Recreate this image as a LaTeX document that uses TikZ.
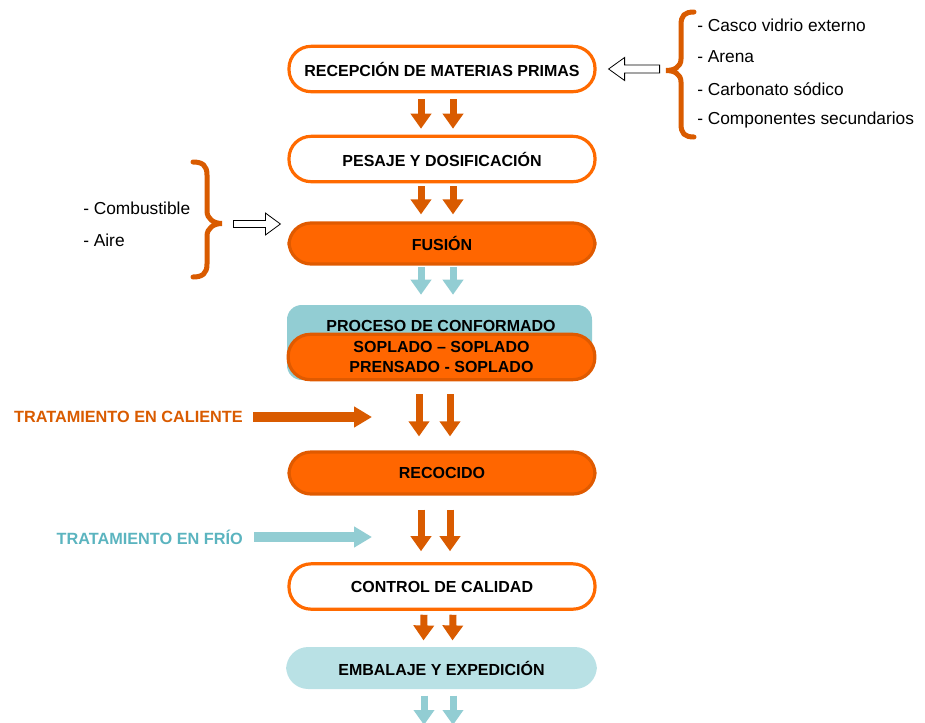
\documentclass[tikz,border=0pt]{standalone}
\usepackage{fontspec}
\setmainfont{Liberation Sans}
\usetikzlibrary{arrows.meta,calc}
\definecolor{orB}{HTML}{FF6A00}
\definecolor{orF}{HTML}{FF6600}
\definecolor{orD}{HTML}{E05A00}
\definecolor{orA}{HTML}{D95B00}
\definecolor{tlA}{HTML}{92CDD3}
\definecolor{tlL}{HTML}{B9E1E5}
\definecolor{tlT}{HTML}{5BB4BF}
\begin{document}
\begin{tikzpicture}[x=0.75pt,y=-0.75pt,
  box/.style={rectangle,rounded corners=16.5pt,minimum width=229.5pt,minimum height=34pt,inner sep=0pt,
    font=\bfseries\fontsize{12pt}{14pt}\selectfont,align=center,line width=2.4pt},
  wbox/.style={box,draw=orB,fill=white},
  obox/.style={box,draw=orD,fill=orF},
  dn/.style={line width=5.25pt,draw=#1,-{Triangle[width=15pt,length=11.25pt]}},
  side/.style={line width=7.5pt,draw=#1,-{Triangle[width=15pt,length=13.5pt]}},
  hollow/.style={draw=black,fill=white,line width=0.6pt,line join=miter},
  brc/.style={draw=orA,line width=3.75pt,line cap=round},
  item/.style={anchor=west,inner sep=0pt,font=\fontsize{13pt}{15pt}\selectfont},
  side label/.style={anchor=east,inner sep=0pt,font=\bfseries\fontsize{12.2pt}{14pt}\selectfont}]
\useasboundingbox (0,0) rectangle (925,722);

% main boxes
\node[wbox] (rec) at (442,69) {RECEPCIÓN DE MATERIAS PRIMAS};
\node[wbox] (pes) at (442,159) {PESAJE Y DOSIFICACIÓN};
\node[obox,minimum height=30.75pt] (fus) at (442,243.5) {FUSIÓN};
\node[rectangle,rounded corners=11pt,fill=tlA,minimum width=228.75pt,minimum height=56.25pt,inner sep=0pt] (proc) at (439.5,342.5) {};
\node[inner sep=0pt,font=\bfseries\fontsize{12pt}{14pt}\selectfont] (proct) at (441,326) {PROCESO DE CONFORMADO};
\node[obox,minimum width=230pt] (sop) at (441.5,357) {SOPLADO – SOPLADO\\[1.2pt]PRENSADO - SOPLADO};
\node[obox,minimum height=31.5pt] (rcc) at (442,473) {RECOCIDO};
\node[wbox] (ctl) at (442,586.5) {CONTROL DE CALIDAD};
\node[box,fill=tlL,minimum width=233pt,minimum height=31.5pt] (emb) at (441.5,668) {EMBALAJE Y EXPEDICIÓN};

% double arrows
\foreach \dx in {-21,11}{
  \draw[dn=orA] ($(rec.south)+(\dx,6)$) -- ($(pes.north)+(\dx,-6)$);
  \draw[dn=orA] ($(pes.south)+(\dx,3)$) -- ($(fus.north)+(\dx,-7)$);
  \draw[dn=tlA] ($(fus.south)+(\dx,1.5)$) -- ($(proc.north)+(\dx+2.5,-10)$);
}
\foreach \dx in {-23,8}{
  \draw[dn=orA] ($(sop.south)+(\dx+0.5,13)$) -- ($(rcc.north)+(\dx,-14)$);
}
\foreach \dx in {-21,8}{
  \draw[dn=orA] ($(rcc.south)+(\dx,14)$) -- ($(ctl.north)+(\dx,-11)$);
}
\coordinate (endA) at (424,725);
\coordinate (endB) at (453,725);
\foreach \dx in {-18,11}{
  \draw[dn=orA] ($(ctl.south)+(\dx,4)$) -- ($(emb.north)+(\dx,-5)$);
}
\draw[dn=tlA] ($(emb.south)+(-17.5,5)$) -- (endA);
\draw[dn=tlA] ($(emb.south)+(11.5,5)$) -- (endB);

% right group
\draw[brc] (694,12) .. controls (684.5,12) and (681,15.5) .. (681,25) -- (681,59)
  .. controls (681,67) and (674,70.5) .. (666,70.5)
  .. controls (674,70.5) and (681,74) .. (681,82) -- (681,124)
  .. controls (681,133.5) and (684.5,137) .. (694,137);
\node[item] (i1) at (697,25) {- Casco vidrio externo};
\node[item] (i2) at (697,57) {- Arena};
\node[item] (i3) at (697,89) {- Carbonato sódico};
\node[item] (i4) at (697,120) {- Componentes secundarios};
\coordinate (ta) at ($(rec.east)+(12,0)$);
\draw[hollow] (ta) -- ++(16,-11.5) -- ++(0,7.5) -- ++(35,0) -- ++(0,8) -- ++(-35,0) -- ++(0,7.5) -- cycle;

% left group
\draw[brc] (193,162) .. controls (202.5,162) and (207,165.5) .. (207,175) -- (207,211)
  .. controls (207,219) and (214,223.5) .. (222,223.5)
  .. controls (214,223.5) and (207,228) .. (207,236) -- (207,264)
  .. controls (207,273.5) and (202.5,277) .. (193,277);
\node[item] (c1) at (83,208) {- Combustible};
\node[item] (c2) at (83,240) {- Aire};
\coordinate (tb) at ($(fus.west)+(-7,-19.5)$);
\draw[hollow] (tb) -- ++(-15,-11) -- ++(0,7.5) -- ++(-32,0) -- ++(0,7) -- ++(32,0) -- ++(0,7.5) -- cycle;

% side treatments
\node[side label,text=orA] (tc) at (243,417) {TRATAMIENTO EN CALIENTE};
\coordinate (tcE) at (372,417);
\draw[side=orA] ($(tc.east)+(10,0)$) -- (tcE);
\node[side label,text=tlT] (tf) at (243,537) {TRATAMIENTO EN FRÍO};
\coordinate (tfE) at (372,537);
\draw[side=tlA] ($(tf.east)+(11,0)$) -- (tfE);
\end{tikzpicture}
\end{document}
